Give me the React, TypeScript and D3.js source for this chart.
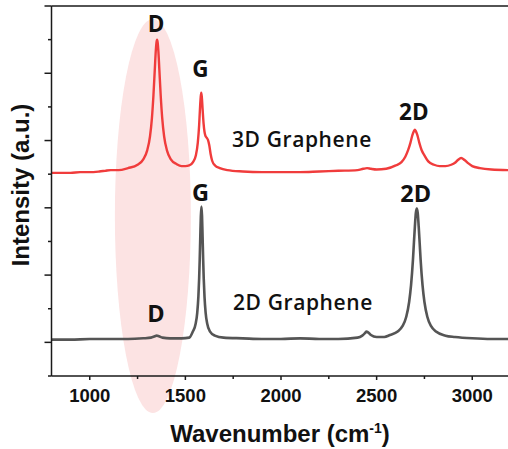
import React from 'react';
import * as d3 from 'd3';

// 3D graphene spectrum (wavenumber cm-1, intensity a.u. with offset)
const wn3D = [800, 850, 900, 950, 1000, 1050, 1080, 1110, 1150, 1200, 1250, 1280, 1300, 1315, 1325, 1333, 1340, 1345, 1349, 1352, 1355, 1359, 1364, 1371, 1379, 1389, 1404, 1424, 1454, 1480, 1500, 1520, 1540, 1555, 1565, 1572, 1577, 1580, 1583, 1586, 1590, 1595, 1600, 1605, 1612, 1618, 1625, 1632, 1640, 1655, 1680, 1720, 1800, 1900, 2000, 2100, 2200, 2300, 2400, 2430, 2450, 2470, 2500, 2550, 2600, 2630, 2650, 2665, 2677, 2687, 2695, 2700, 2705, 2713, 2723, 2735, 2750, 2770, 2800, 2830, 2860, 2890, 2910, 2925, 2942, 2960, 2980, 3000, 3040, 3100, 3200];
const int3D = [2.52, 2.52, 2.52, 2.53, 2.53, 2.54, 2.55, 2.56, 2.56, 2.59, 2.64, 2.72, 2.85, 3.06, 3.33, 3.67, 4.05, 4.32, 4.46, 4.50, 4.46, 4.32, 4.05, 3.67, 3.33, 3.06, 2.85, 2.72, 2.65, 2.62, 2.62, 2.63, 2.68, 2.78, 2.97, 3.23, 3.51, 3.64, 3.71, 3.65, 3.47, 3.26, 3.13, 3.07, 3.04, 3.01, 2.93, 2.80, 2.70, 2.63, 2.59, 2.56, 2.54, 2.53, 2.53, 2.53, 2.54, 2.55, 2.56, 2.58, 2.59, 2.58, 2.57, 2.58, 2.63, 2.68, 2.76, 2.86, 2.97, 3.08, 3.14, 3.16, 3.14, 3.08, 2.97, 2.86, 2.78, 2.69, 2.64, 2.62, 2.62, 2.64, 2.67, 2.71, 2.74, 2.71, 2.66, 2.62, 2.59, 2.57, 2.56];

// 2D graphene spectrum
const wn2D = [800, 900, 1000, 1100, 1200, 1280, 1320, 1340, 1350, 1362, 1380, 1420, 1480, 1520, 1539, 1554, 1562, 1568, 1572, 1575, 1578, 1581, 1584, 1587, 1590, 1593, 1596, 1600, 1606, 1614, 1629, 1654, 1700, 1800, 1900, 2000, 2100, 2200, 2300, 2400, 2425, 2440, 2447, 2455, 2470, 2500, 2540, 2570, 2610, 2635, 2655, 2670, 2680, 2690, 2695, 2700, 2705, 2710, 2715, 2720, 2725, 2730, 2740, 2750, 2765, 2785, 2810, 2860, 2910, 3000, 3100, 3200];
const int2D = [0.04, 0.04, 0.05, 0.05, 0.05, 0.06, 0.07, 0.09, 0.10, 0.09, 0.07, 0.06, 0.06, 0.07, 0.16, 0.28, 0.44, 0.68, 0.95, 1.23, 1.57, 1.88, 2.02, 1.88, 1.57, 1.23, 0.95, 0.68, 0.44, 0.28, 0.16, 0.10, 0.07, 0.06, 0.05, 0.05, 0.06, 0.05, 0.05, 0.07, 0.10, 0.14, 0.16, 0.15, 0.11, 0.08, 0.08, 0.11, 0.16, 0.24, 0.38, 0.60, 0.85, 1.23, 1.48, 1.72, 1.92, 1.99, 1.92, 1.72, 1.48, 1.23, 0.85, 0.60, 0.38, 0.24, 0.16, 0.10, 0.08, 0.06, 0.05, 0.05];

const xMajorTicks = [1000, 1500, 2000, 2500, 3000];
const xMinorTicks = [1250, 1750, 2250, 2750];
const yMajorTicks = [0, 1, 2, 3, 4, 5];
const yMinorTicks = [-0.5, 0.5, 1.5, 2.5, 3.5, 4.5];

const peakLabels3D = [
  { text: 'D', wn: 1352 },
  { text: 'G', wn: 1584 },
  { text: '2D', wn: 2700 },
];
const peakLabels2D = [
  { text: 'D', wn: 1352 },
  { text: 'G', wn: 1584 },
  { text: '2D', wn: 2710 },
];

export default function App() {
  const W = 508, H = 449;
  const x = d3.scaleLinear().domain([800, 3200]).range([51.5, 510.5]);
  const y = d3.scaleLinear().domain([-0.5, 5]).range([376, 6]);

  const line = d3.line<[number, number]>()
    .x(d => x(d[0]))
    .y(d => y(d[1]))
    .curve(d3.curveMonotoneX);

  const d3D = line(wn3D.map((w, i) => [w, int3D[i]] as [number, number])) || '';
  const d2D = line(wn2D.map((w, i) => [w, int2D[i]] as [number, number])) || '';

  const axisColor = '#1a1a1a';
  const labelFont = "'Open Sans', 'Noto Sans', sans-serif";
  const axisFont = "'Liberation Sans', Arial, sans-serif";

  const top3DLabelY = [32, 77, 120];
  const top2DLabelY = [322, 201, 202];

  return (
    <svg width={W} height={H} style={{ position: 'absolute', left: 0, top: 0, background: '#fff' }}>
      <rect x={0} y={0} width={W} height={H} fill="#fff" />
      <ellipse cx={x(1330)} cy={216} rx={38} ry={197} fill="#fce3e3" />

      <path d={d2D} fill="none" stroke="#555555" strokeWidth={2.6} strokeLinejoin="round" />
      <path d={d3D} fill="none" stroke="#f03c3c" strokeWidth={2.4} strokeLinejoin="round" />

      <line x1={51.5} x2={W} y1={y(5)} y2={y(5)} stroke={axisColor} strokeWidth={1.5} />
      <line x1={51.5} x2={W} y1={y(-0.5)} y2={y(-0.5)} stroke={axisColor} strokeWidth={1.5} />
      <line x1={51.5} x2={51.5} y1={y(5)} y2={y(-0.5)} stroke={axisColor} strokeWidth={1.5} />
      {yMajorTicks.map(v => (
        <line key={'ym' + v} x1={44.5} x2={51.5} y1={y(v)} y2={y(v)} stroke={axisColor} strokeWidth={1.5} />
      ))}
      {yMinorTicks.map(v => (
        <line key={'yn' + v} x1={48} x2={51.5} y1={y(v)} y2={y(v)} stroke={axisColor} strokeWidth={1.5} />
      ))}
      {xMajorTicks.map(v => (
        <line key={'xm' + v} x1={x(v)} x2={x(v)} y1={376} y2={380} stroke={axisColor} strokeWidth={1.5} />
      ))}
      {xMinorTicks.map(v => (
        <line key={'xn' + v} x1={x(v)} x2={x(v)} y1={376} y2={379} stroke={axisColor} strokeWidth={1.5} />
      ))}
      {xMajorTicks.map(v => (
        <text key={'xl' + v} x={x(v)} y={402} textAnchor="middle" fontFamily={axisFont} fontWeight="bold" fontSize={18.5} fill="#111">{v}</text>
      ))}

      <text x={280} y={442} textAnchor="middle" fontFamily={axisFont} fontWeight="bold" fontSize={24} fill="#111">
        Wavenumber (cm<tspan dy={-9} fontSize={14}>-1</tspan><tspan dy={9}>)</tspan>
      </text>
      <text transform="translate(29,185) rotate(-90)" textAnchor="middle" fontFamily={axisFont} fontWeight="bold" fontSize={24} fill="#111">
        Intensity (a.u.)
      </text>

      {peakLabels3D.map((p, i) => (
        <text key={'p3' + i} x={x(p.wn) - 1} y={top3DLabelY[i]} textAnchor="middle" fontFamily={labelFont} fontWeight={700} fontSize={22.5} fill="#111">{p.text}</text>
      ))}
      {peakLabels2D.map((p, i) => (
        <text key={'p2' + i} x={x(p.wn) - 1} y={top2DLabelY[i]} textAnchor="middle" fontFamily={labelFont} fontWeight={700} fontSize={23.5} fill="#111">{p.text}</text>
      ))}
      <text x={232} y={147} fontFamily={labelFont} fontWeight={600} fontSize={21} letterSpacing={0.6} fill="#111">3D Graphene</text>
      <text x={233} y={310} fontFamily={labelFont} fontWeight={600} fontSize={21} letterSpacing={0.6} fill="#111">2D Graphene</text>
    </svg>
  );
}
